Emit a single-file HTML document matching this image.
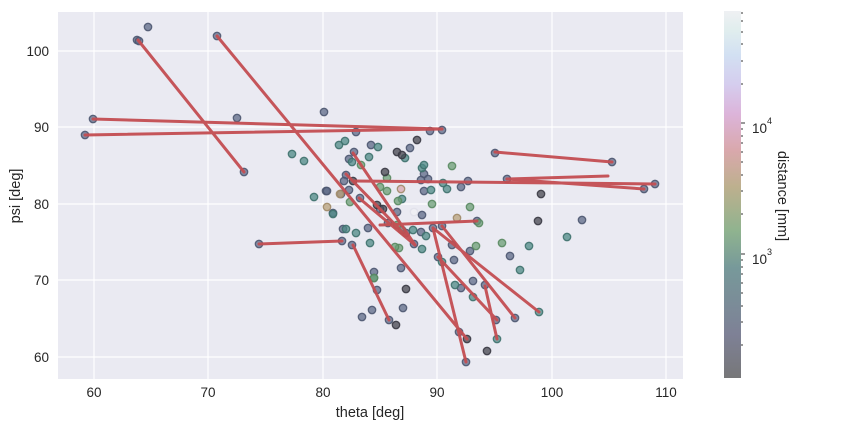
<!DOCTYPE html>
<html><head><meta charset="utf-8"><style>
html,body{margin:0;padding:0;background:#fff;}
svg{display:block;font-family:"Liberation Sans",Arial,sans-serif;}
</style></head><body>
<svg width="847" height="426" viewBox="0 0 847 426" xmlns="http://www.w3.org/2000/svg">
<defs>
<linearGradient id="cb" x1="0" y1="1" x2="0" y2="0">
<stop offset="0" stop-color="#777779"/>
<stop offset="0.12" stop-color="#7e8196"/>
<stop offset="0.3" stop-color="#77999a"/>
<stop offset="0.4" stop-color="#8fb38f"/>
<stop offset="0.52" stop-color="#bdb08e"/>
<stop offset="0.62" stop-color="#d9a8ac"/>
<stop offset="0.72" stop-color="#dcb4da"/>
<stop offset="0.8" stop-color="#d5cdee"/>
<stop offset="0.88" stop-color="#d2e0f2"/>
<stop offset="0.95" stop-color="#e1eeee"/>
<stop offset="1" stop-color="#eff0f3"/>
</linearGradient>
</defs>
<rect x="58" y="12" width="625" height="367" fill="#eaeaf2"/>
<g stroke="#fff" stroke-width="1.2">
<line x1="94" y1="12" x2="94" y2="379"/><line x1="208" y1="12" x2="208" y2="379"/>
<line x1="323" y1="12" x2="323" y2="379"/><line x1="437" y1="12" x2="437" y2="379"/>
<line x1="552" y1="12" x2="552" y2="379"/><line x1="666" y1="12" x2="666" y2="379"/>
<line x1="58" y1="51" x2="683" y2="51"/><line x1="58" y1="127" x2="683" y2="127"/>
<line x1="58" y1="204" x2="683" y2="204"/><line x1="58" y1="280" x2="683" y2="280"/>
<line x1="58" y1="357" x2="683" y2="357"/>
</g>
<g fill-opacity="0.75" stroke-opacity="0.9" stroke-width="1.3">
<g fill="#5d6a87" stroke="#4d5670">
<circle cx="148" cy="27" r="3.7"/><circle cx="137" cy="40" r="3.7"/><circle cx="139" cy="41" r="3.7"/><circle cx="217" cy="36" r="3.7"/>
<circle cx="237" cy="118" r="3.7"/><circle cx="324" cy="112" r="3.7"/><circle cx="93" cy="119" r="3.7"/><circle cx="85" cy="135" r="3.7"/>
<circle cx="244" cy="172" r="3.7"/><circle cx="356" cy="132" r="3.7"/><circle cx="354" cy="152" r="3.7"/><circle cx="349" cy="159" r="3.7"/>
<circle cx="346" cy="175" r="3.7"/><circle cx="344" cy="181" r="3.7"/><circle cx="326" cy="191" r="3.7"/><circle cx="349" cy="190" r="3.7"/>
<circle cx="343" cy="229" r="3.7"/><circle cx="352" cy="245" r="3.7"/><circle cx="430" cy="131" r="3.7"/><circle cx="442" cy="130" r="3.7"/>
<circle cx="371" cy="145" r="3.7"/><circle cx="410" cy="148" r="3.7"/><circle cx="495" cy="153" r="3.7"/><circle cx="424" cy="174" r="3.7"/>
<circle cx="421" cy="180" r="3.7"/><circle cx="428" cy="179" r="3.7"/><circle cx="468" cy="181" r="3.7"/><circle cx="507" cy="179" r="3.7"/>
<circle cx="341" cy="194" r="3.7"/><circle cx="327" cy="191" r="3.7"/><circle cx="424" cy="191" r="3.7"/><circle cx="461" cy="187" r="3.7"/>
<circle cx="333" cy="213" r="3.7"/><circle cx="360" cy="198" r="3.7"/><circle cx="380" cy="209" r="3.7"/><circle cx="397" cy="212" r="3.7"/>
<circle cx="422" cy="215" r="3.7"/><circle cx="477" cy="221" r="3.7"/><circle cx="368" cy="228" r="3.7"/><circle cx="388" cy="223" r="3.7"/>
<circle cx="406" cy="233" r="3.7"/><circle cx="421" cy="232" r="3.7"/><circle cx="442" cy="226" r="3.7"/><circle cx="433" cy="228" r="3.7"/>
<circle cx="414" cy="244" r="3.7"/><circle cx="470" cy="251" r="3.7"/><circle cx="438" cy="257" r="3.7"/><circle cx="454" cy="260" r="3.7"/>
<circle cx="401" cy="268" r="3.7"/><circle cx="374" cy="272" r="3.7"/><circle cx="461" cy="288" r="3.7"/><circle cx="377" cy="290" r="3.7"/>
<circle cx="372" cy="310" r="3.7"/><circle cx="362" cy="317" r="3.7"/><circle cx="403" cy="308" r="3.7"/><circle cx="389" cy="320" r="3.7"/>
<circle cx="496" cy="320" r="3.7"/><circle cx="515" cy="318" r="3.7"/><circle cx="459" cy="332" r="3.7"/><circle cx="466" cy="362" r="3.7"/>
<circle cx="612" cy="162" r="3.7"/><circle cx="644" cy="189" r="3.7"/><circle cx="655" cy="184" r="3.7"/><circle cx="582" cy="220" r="3.7"/>
<circle cx="510" cy="256" r="3.7"/><circle cx="485" cy="285" r="3.7"/><circle cx="259" cy="244" r="3.7"/><circle cx="342" cy="241" r="3.7"/>
<circle cx="452" cy="245" r="3.7"/><circle cx="473" cy="281" r="3.7"/>
</g>
<g fill="#4e8a86" stroke="#3f716d">
<circle cx="292" cy="154" r="3.7"/><circle cx="304" cy="161" r="3.7"/><circle cx="339" cy="145" r="3.7"/><circle cx="345" cy="141" r="3.7"/>
<circle cx="378" cy="147" r="3.7"/><circle cx="405" cy="158" r="3.7"/><circle cx="352" cy="162" r="3.7"/><circle cx="369" cy="157" r="3.7"/>
<circle cx="422" cy="168" r="3.7"/><circle cx="424" cy="165" r="3.7"/><circle cx="314" cy="197" r="3.7"/><circle cx="333" cy="214" r="3.7"/>
<circle cx="346" cy="229" r="3.7"/><circle cx="356" cy="233" r="3.7"/><circle cx="402" cy="230" r="3.7"/><circle cx="426" cy="236" r="3.7"/>
<circle cx="370" cy="243" r="3.7"/><circle cx="422" cy="249" r="3.7"/><circle cx="442" cy="262" r="3.7"/><circle cx="374" cy="278" r="3.7"/>
<circle cx="473" cy="297" r="3.7"/><circle cx="455" cy="285" r="3.7"/><circle cx="539" cy="312" r="3.7"/><circle cx="497" cy="339" r="3.7"/>
<circle cx="567" cy="237" r="3.7"/><circle cx="529" cy="246" r="3.7"/><circle cx="520" cy="270" r="3.7"/><circle cx="447" cy="189" r="3.7"/>
<circle cx="431" cy="190" r="3.7"/><circle cx="443" cy="183" r="3.7"/><circle cx="402" cy="199" r="3.7"/><circle cx="413" cy="230" r="3.7"/>
</g>
<g fill="#6b9e74" stroke="#5a8a62">
<circle cx="452" cy="166" r="3.7"/><circle cx="387" cy="178" r="3.7"/><circle cx="387" cy="191" r="3.7"/><circle cx="432" cy="204" r="3.7"/>
<circle cx="470" cy="207" r="3.7"/><circle cx="479" cy="223" r="3.7"/><circle cx="397" cy="225" r="3.7"/><circle cx="399" cy="248" r="3.7"/>
<circle cx="476" cy="246" r="3.7"/><circle cx="502" cy="243" r="3.7"/><circle cx="395" cy="247" r="3.7"/><circle cx="361" cy="165" r="3.7"/>
<circle cx="380" cy="187" r="3.7"/><circle cx="350" cy="202" r="3.7"/><circle cx="398" cy="201" r="3.7"/><circle cx="374" cy="278" r="3.7"/>
</g>
<g fill="#45454f" stroke="#3a3a44">
<circle cx="417" cy="140" r="3.7"/><circle cx="397" cy="152" r="3.7"/><circle cx="402" cy="155" r="3.7"/><circle cx="385" cy="172" r="3.7"/>
<circle cx="541" cy="194" r="3.7"/><circle cx="538" cy="221" r="3.7"/><circle cx="377" cy="205" r="3.7"/><circle cx="383" cy="209" r="3.7"/>
<circle cx="406" cy="289" r="3.7"/><circle cx="396" cy="325" r="3.7"/><circle cx="467" cy="339" r="3.7"/><circle cx="487" cy="351" r="3.7"/>
<circle cx="353" cy="181" r="3.7"/>
</g>
<g fill="#b8a07a" stroke="#a08a68">
<circle cx="340" cy="194" r="3.7"/><circle cx="327" cy="207" r="3.7"/><circle cx="457" cy="218" r="3.7"/><circle cx="401" cy="189" r="3.7" fill="#d8a8b0"/>
<circle cx="414" cy="212" r="3.7" fill="#f0f0f4" stroke="#e0e0ea"/>
</g>
</g>
<g stroke="#c44e52" stroke-width="3" stroke-linecap="round" fill="none" opacity="0.95">
<line x1="138" y1="40" x2="244" y2="172"/>
<line x1="217" y1="36" x2="467" y2="339"/>
<line x1="93" y1="119" x2="442" y2="129"/>
<line x1="85" y1="135" x2="442" y2="129"/>
<line x1="495" y1="152" x2="612" y2="162"/>
<line x1="507" y1="179" x2="608" y2="176"/>
<line x1="507" y1="179" x2="644" y2="189"/>
<line x1="353" y1="181" x2="655" y2="184"/>
<line x1="259" y1="244" x2="342" y2="241"/>
<line x1="380" y1="225" x2="477" y2="221"/>
<line x1="433" y1="228" x2="539" y2="312"/>
<line x1="442" y1="226" x2="515" y2="318"/>
<line x1="433" y1="228" x2="466" y2="362"/>
<line x1="438" y1="257" x2="497" y2="320"/>
<line x1="485" y1="286" x2="497" y2="339"/>
<line x1="353" y1="153" x2="415" y2="245"/>
<line x1="346" y1="174" x2="415" y2="245"/>
<line x1="359" y1="198" x2="415" y2="245"/>
<line x1="353" y1="245" x2="389" y2="320"/>
</g>
<g font-size="13.5" fill="#262626" text-anchor="end">
<text x="49" y="56">100</text><text x="49" y="132">90</text><text x="49" y="209">80</text>
<text x="49" y="285">70</text><text x="49" y="362">60</text>
</g>
<g font-size="13.5" fill="#262626" text-anchor="middle">
<text x="94" y="397">60</text><text x="208" y="397">70</text><text x="323" y="397">80</text>
<text x="437" y="397">90</text><text x="552" y="397">100</text><text x="666" y="397">110</text>
<text x="370" y="417" font-size="14.5">theta [deg]</text>
<text transform="translate(20,196) rotate(-90)" font-size="14.5">psi [deg]</text>
<text transform="translate(778,196) rotate(90)" font-size="14.5">distance [mm]</text>
</g>
<rect x="724" y="11" width="17" height="367" fill="url(#cb)"/>
<g stroke="#333" stroke-width="1">
<line x1="741" y1="123" x2="745" y2="123"/><line x1="741" y1="254" x2="745" y2="254"/>
<line x1="741" y1="129" x2="743" y2="129"/><line x1="741" y1="136" x2="743" y2="136"/><line x1="741" y1="143" x2="743" y2="143"/>
<line x1="741" y1="152" x2="743" y2="152"/><line x1="741" y1="162" x2="743" y2="162"/><line x1="741" y1="175" x2="743" y2="175"/>
<line x1="741" y1="191" x2="743" y2="191"/><line x1="741" y1="214" x2="743" y2="214"/>
<line x1="741" y1="84" x2="743" y2="84"/><line x1="741" y1="61" x2="743" y2="61"/><line x1="741" y1="44" x2="743" y2="44"/>
<line x1="741" y1="32" x2="743" y2="32"/><line x1="741" y1="21" x2="743" y2="21"/><line x1="741" y1="13" x2="743" y2="13"/>
<line x1="741" y1="260" x2="743" y2="260"/><line x1="741" y1="267" x2="743" y2="267"/><line x1="741" y1="274" x2="743" y2="274"/>
<line x1="741" y1="283" x2="743" y2="283"/><line x1="741" y1="293" x2="743" y2="293"/><line x1="741" y1="306" x2="743" y2="306"/>
<line x1="741" y1="322" x2="743" y2="322"/><line x1="741" y1="345" x2="743" y2="345"/>
</g>
<g font-size="13.5" fill="#262626">
<text x="752" y="133">10</text><text x="767" y="124" font-size="9">4</text>
<text x="752" y="264">10</text><text x="767" y="255" font-size="9">3</text>
</g>
</svg>
</body></html>
